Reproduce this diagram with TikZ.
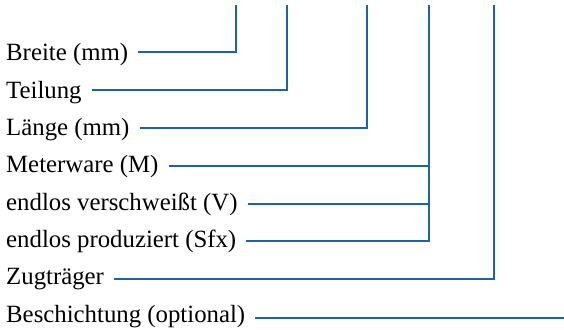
\documentclass[tikz,border=0pt]{standalone}
\usepackage{fontspec}
\setmainfont{Liberation Serif}
\usetikzlibrary{calc}
\definecolor{lineblue}{RGB}{30,100,165}
\begin{document}
\begin{tikzpicture}[x=1pt,y=1pt,
  lbl/.style={anchor=base west,inner sep=0pt,font=\fontsize{24.8}{28}\selectfont},
  conn/.style={draw=lineblue,line width=2pt,line cap=butt,line join=miter}]
\useasboundingbox (0,0) rectangle (564,329);
% labels
\node[lbl] (b) at (6,268.0) {Breite (mm)};
\node[lbl] (t) at (6,230.7) {Teilung};
\node[lbl] (l) at (6,193.4) {Länge (mm)};
\node[lbl] (m) at (6,156.1) {Meterware (M)};
\node[lbl] (v) at (6,118.8) {endlos verschweißt (V)};
\node[lbl] (s) at (6,81.5) {endlos produziert (Sfx)};
\node[lbl] (z) at (6,44.2) {Zugträger};
\node[lbl] (c) at (6,6.9) {Beschichtung (optional)};
% corners and top ends
\coordinate (c1) at (236,277);
\coordinate (c2) at (287,239);
\coordinate (c3) at (367,201);
\coordinate (cm) at (429,163);
\coordinate (cv) at (429,125);
\coordinate (c4) at (429,88);
\coordinate (c5) at (494,50);
\coordinate (t1) at (236,324);
\coordinate (t2) at (287,324);
\coordinate (t3) at (367,324);
\coordinate (t4) at (429,324);
\coordinate (t5) at (494,324);
\coordinate (e6) at (564,11);
% connectors
\draw[conn] ($(b.base east |- c1)+(10,0)$) -- (c1) -- (t1);
\draw[conn] ($(t.base east |- c2)+(10,0)$) -- (c2) -- (t2);
\draw[conn] ($(l.base east |- c3)+(10,0)$) -- (c3) -- (t3);
\draw[conn] ($(m.base east |- cm)+(10,0)$) -- (cm);
\draw[conn] ($(v.base east |- cv)+(10,0)$) -- (cv);
\draw[conn] ($(s.base east |- c4)+(10,0)$) -- (c4) -- (t4);
\draw[conn] ($(z.base east |- c5)+(10,0)$) -- (c5) -- (t5);
\draw[conn] ($(c.base east |- e6)+(10,0)$) -- (e6);
\end{tikzpicture}
\end{document}
